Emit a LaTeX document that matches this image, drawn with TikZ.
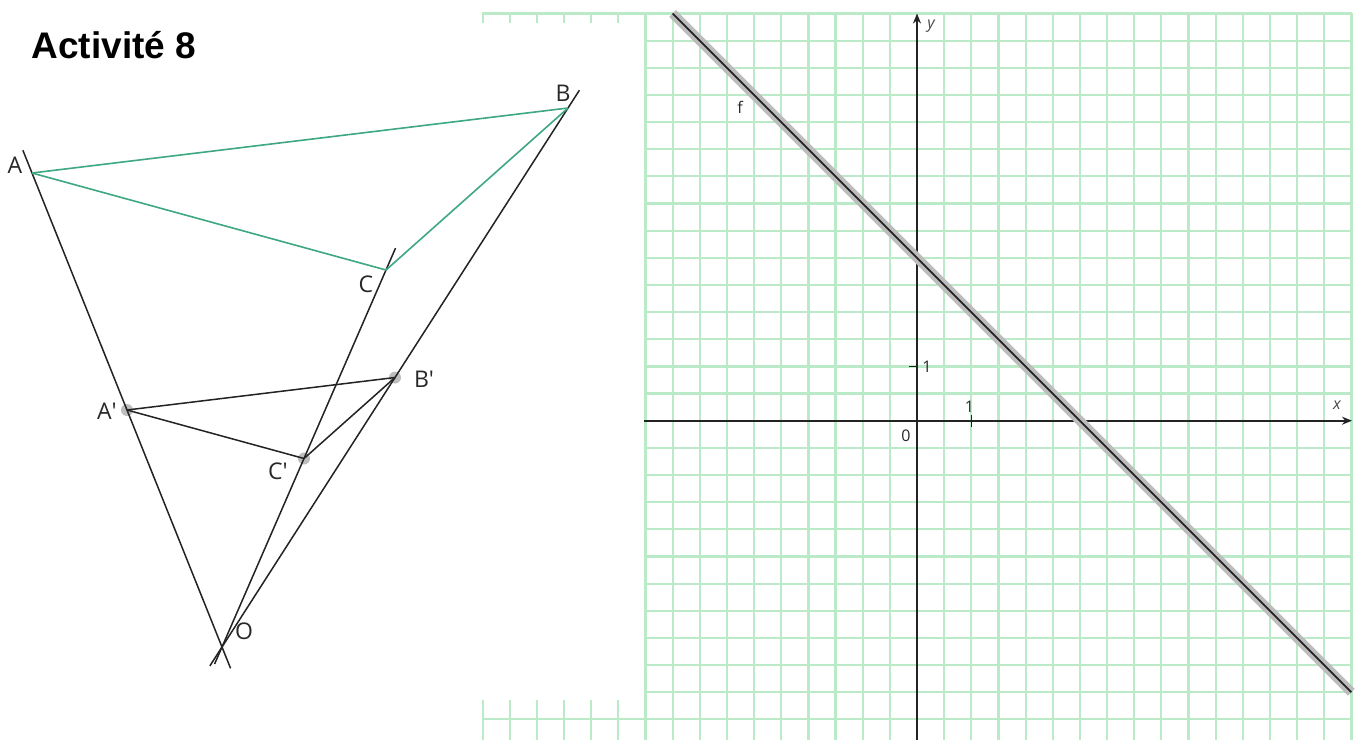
\documentclass[tikz,border=0pt]{standalone}
\usepackage{fontspec}
\setmainfont{Liberation Sans}
\newfontfamily\labfont{Open Sans}
\usetikzlibrary{arrows.meta,calc}
\definecolor{gridgreen}{RGB}{186,234,199}
\definecolor{trigreen}{RGB}{62,168,128}
\definecolor{ink}{RGB}{35,35,35}
\definecolor{bandgray}{RGB}{188,188,188}
\definecolor{dotgray}{RGB}{190,190,190}
\definecolor{labgray}{RGB}{40,40,40}
\tikzset{
  gridline/.style={draw=gridgreen, line width=2.2pt},
  construct/.style={draw=ink, line width=1.5pt},
  greenside/.style={draw=trigreen, line width=1.6pt},
  ptdot/.style={fill=dotgray, draw=none},
  ptlabel/.style={font=\labfont\fontsize{23}{23}\selectfont, text=labgray, inner sep=0pt},
  axisline/.style={draw=ink, line width=1.6pt},
  axlabel/.style={font=\labfont\fontsize{16}{16}\selectfont, text=labgray, inner sep=0pt},
  axvar/.style={font=\labfont\itshape\fontsize{16}{16}\selectfont, text=labgray!85, inner sep=0pt}
}
\begin{document}
\begin{tikzpicture}[x=1pt,y=-1pt]
\useasboundingbox (0,0) rectangle (1361,740);
\fill[white] (0,0) rectangle (1361,740);

% ---------- grid ----------
\begin{scope}
\clip (470,0) rectangle (1361,740);
\foreach \k in {-16,...,16}
  \draw[gridline] ({917+\k*27.15},13.45) -- ({917+\k*27.15},740);
\foreach \j in {-15,...,11}
  \draw[gridline] (481.6,{420.7+\j*27.15}) -- (1352.4,{420.7+\j*27.15});
\end{scope}
\fill[white] (470,23) rectangle (644,700);

% ---------- axes ----------
\coordinate (xs) at (644,420.7);
\coordinate (xe) at (1352,420.7);
\coordinate (ys) at (917,740);
\coordinate (ye) at (917,13.5);
\draw[axisline,-{Stealth[length=10pt,width=8pt]}] (xs) -- (xe);
\draw[axisline,-{Stealth[length=10pt,width=8pt]}] (ys) -- (ye);
\coordinate (tyA) at (909,366.4); \coordinate (tyB) at (918,366.4);
\draw[axisline] (tyA) -- (tyB);
\coordinate (txA) at (971.3,415); \coordinate (txB) at (971.3,427);
\draw[axisline] (txA) -- (txB);
\node[axlabel] (onex) at (969.5,407) {1};
\node[axlabel] (oney) at (927,367) {1};
\node[axlabel] (zero) at (906,436) {0};
\node[axvar] (xl) at (1337,405) {x};
\node[axvar] (yl) at (931,26) {y};
\node[axlabel] (fl) at (740,107) {f};

% ---------- line f ----------
\coordinate (f1) at (672.65,13.45);
\coordinate (f2) at (1351.4,692.2);
\draw[draw=bandgray, line width=9.5pt] (f1) -- (f2);
\draw[draw=ink, line width=1.8pt] (f1) -- (f2);

% ---------- title ----------
\node[anchor=base west, inner sep=0pt, font=\bfseries\fontsize{37}{37}\selectfont] (title) at (31.5,58) {Activité 8};

% ---------- homothety figure ----------
\coordinate (O) at (222,647);
\coordinate (A) at (32,173);
\coordinate (B) at (568,108);
\coordinate (C) at (386,270);
\coordinate (A1) at ($(O)!0.5!(A)$);
\coordinate (B1) at ($(O)!0.5!(B)$);
\coordinate (C1) at ($(O)!0.5!(C)$);
\coordinate (Atop) at ($(O)!1.048!(A)$);
\coordinate (Abot) at ($(O)!-0.045!(A)$);
\coordinate (Btop) at ($(O)!1.033!(B)$);
\coordinate (Bbot) at ($(O)!-0.035!(B)$);
\coordinate (Ctop) at ($(O)!1.058!(C)$);
\coordinate (Cbot) at ($(O)!-0.045!(C)$);

\fill[ptdot] (A1) circle (6);
\fill[ptdot] (B1) circle (6);
\fill[ptdot] (C1) circle (6);

\draw[construct] (Atop) -- (Abot);
\draw[construct] (Btop) -- (Bbot);
\draw[construct] (Ctop) -- (Cbot);

\draw[greenside] (A) -- (B);
\draw[greenside] (A) -- (C);
\draw[greenside] (C) -- (B);

\draw[construct] (A1) -- (B1);
\draw[construct] (A1) -- (C1);
\draw[construct] (C1) -- (B1);

\node[ptlabel] (lA) at (15,165) {A};
\node[ptlabel] (lB) at (563,93) {B};
\node[ptlabel] (lC) at (366,284) {C};
\node[ptlabel] (lA1) at (107,411) {A\textquotesingle};
\node[ptlabel] (lB1) at (424,379) {B\textquotesingle};
\node[ptlabel] (lC1) at (278,471) {C\textquotesingle};
\node[ptlabel] (lO) at (244,631) {O};
\end{tikzpicture}
\end{document}
